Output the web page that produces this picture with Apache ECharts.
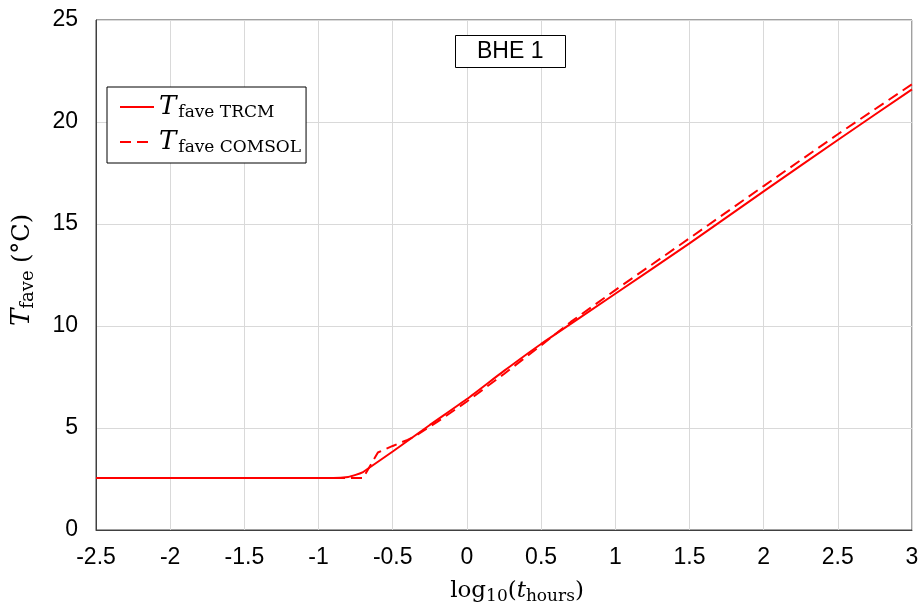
<!DOCTYPE html>
<html>
<head>
<meta charset="utf-8">
<script src="https://cdn.jsdelivr.net/npm/echarts@6/dist/echarts.min.js"></script>
<style>
  html, body { margin: 0; padding: 0; background: #fff; }
  #chart { width: 921px; height: 605px; }
</style>
</head>
<body>
<div id="chart"></div>
<script>
// log10(t) values and average fluid temperature (°C)
const trcmX = [-2.5, -2, -1.5, -1, -0.9, -0.8, -0.75, -0.7, -0.68, -0.5, -0.25, 0, 0.25, 0.5, 1, 1.5, 2, 2.5, 3];
const trcmY = [2.55, 2.55, 2.55, 2.55, 2.55, 2.6, 2.7, 2.84, 2.94, 3.85, 5.15, 6.42, 7.8, 9.12, 11.58, 14.05, 16.6, 19.12, 21.6];

const comsolX = [-2.5, -2, -1.5, -1, -0.7, -0.6, -0.5, -0.4, -0.35, -0.2, 0, 0.25, 0.5, 0.7, 1, 1.5, 2, 2.5, 3];
const comsolY = [2.55, 2.55, 2.55, 2.55, 2.55, 3.8, 4.12, 4.42, 4.6, 5.3, 6.3, 7.65, 9.05, 10.2, 11.76, 14.3, 16.86, 19.4, 21.85];

const seriesNames = ['TRCM', 'COMSOL'];

const zip = (xs, ys) => xs.map((x, i) => [x, ys[i]]);

const myChart = echarts.init(document.getElementById('chart'));

const serif = 'DejaVu Serif, Liberation Serif, serif';

const tickStyle = {
  fontFamily: 'Liberation Sans, Arial, sans-serif',
  fontSize: 23,
  color: '#000'
};

const option = {
  animation: false,
  title: {
    text: 'BHE 1',
    left: 455,
    top: 35,
    borderColor: '#000',
    borderWidth: 1,
    padding: [5, 22, 5, 22],
    backgroundColor: '#fff',
    textStyle: {
      fontFamily: 'Liberation Sans, Arial, sans-serif',
      fontSize: 23,
      fontWeight: 'normal',
      color: '#000'
    }
  },
  legend: {
    left: 107,
    top: 87,
    orient: 'vertical',
    borderColor: '#000',
    borderWidth: 1,
    backgroundColor: '#fff',
    padding: [7, 5, 7, 12],
    itemWidth: 34,
    itemHeight: 14,
    itemGap: 8,
    itemStyle: { opacity: 0 },
    data: seriesNames,
    formatter: name => `{it|T}{sub|fave ${name}}`,
    textStyle: {
      rich: {
        it: {
          fontFamily: serif,
          fontStyle: 'italic',
          fontSize: 26,
          color: '#000',
          padding: [0, 2, 0, 0]
        },
        sub: {
          fontFamily: serif,
          fontSize: 17,
          color: '#000',
          padding: [11, 0, 0, 0]
        }
      }
    }
  },
  grid: {
    left: 96,
    top: 20,
    right: 9,
    bottom: 75,
    outerBoundsMode: 'none',
    containLabel: false,
    show: true,
    borderColor: '#404040',
    borderWidth: 1
  },
  xAxis: {
    type: 'value',
    min: -2.5,
    max: 3,
    interval: 0.5,
    name: '{n|log}{s|10}{n|(}{i|t}{s|hours}{n|)}',
    nameLocation: 'middle',
    nameGap: 47,
    nameTextStyle: {
      padding: [0, 0, 0, 26],
      rich: {
        n: { fontFamily: serif, fontSize: 23, color: '#000' },
        i: { fontFamily: serif, fontSize: 23, fontStyle: 'italic', color: '#000' },
        s: { fontFamily: serif, fontSize: 17, color: '#000', padding: [11, 0, 0, 0] }
      }
    },
    axisLine: { show: true, onZero: false, lineStyle: { color: '#404040' } },
    axisTick: { show: false },
    axisLabel: { ...tickStyle, margin: 16 },
    splitLine: { show: true, lineStyle: { color: '#d9d9d9', width: 1 } }
  },
  yAxis: {
    type: 'value',
    min: 0,
    max: 25,
    interval: 5,
    name: '{i|T}{s|fave} {n|(°C)}',
    nameLocation: 'middle',
    nameRotate: 90,
    nameGap: 59,
    nameTextStyle: {
      padding: [0, 0, 0, 10],
      rich: {
        n: { fontFamily: serif, fontSize: 24, color: '#000', padding: [0, 0, 0, 4] },
        i: { fontFamily: serif, fontSize: 26, fontStyle: 'italic', color: '#000' },
        s: { fontFamily: serif, fontSize: 18, color: '#000', padding: [11, 0, 0, 0] }
      }
    },
    axisLine: { show: true, onZero: false, lineStyle: { color: '#404040' } },
    axisTick: { show: false },
    axisLabel: { ...tickStyle, margin: 18 },
    splitLine: { show: true, lineStyle: { color: '#d9d9d9', width: 1 } }
  },
  series: [
    {
      name: seriesNames[0],
      type: 'line',
      data: zip(trcmX, trcmY),
      smooth: 0.2,
      symbol: 'none',
      lineStyle: { color: '#ff0000', width: 2, type: 'solid' },
      itemStyle: { color: '#ff0000' },
      z: 3
    },
    {
      name: seriesNames[1],
      type: 'line',
      data: zip(comsolX, comsolY),
      symbol: 'none',
      lineStyle: { color: '#ff0000', width: 2, type: [11, 6] },
      itemStyle: { color: '#ff0000' },
      z: 2
    }
  ]
};

myChart.setOption(option);
</script>
</body>
</html>
